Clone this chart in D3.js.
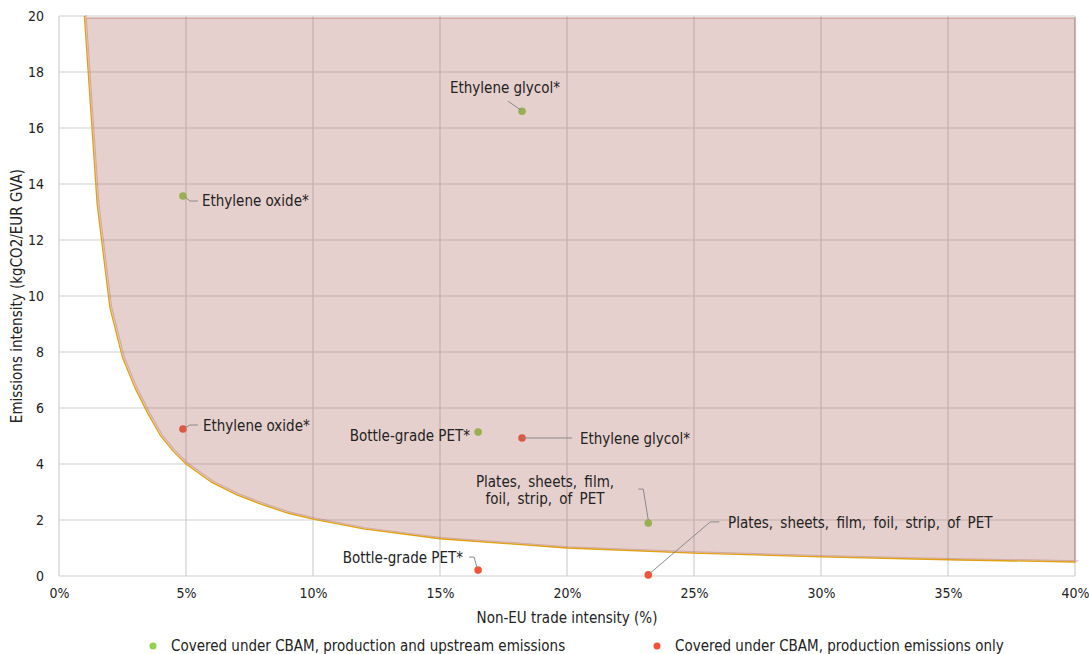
<!DOCTYPE html>
<html><head><meta charset="utf-8">
<script src="https://cdn.jsdelivr.net/npm/d3@7"></script>
<style>body{margin:0;background:#fff}svg{display:block}text{font-family:"DejaVu Sans Condensed","DejaVu Sans",sans-serif;fill:#222}</style>
</head><body><svg id="c" width="1089" height="654"></svg>
<script>
// threshold curve (x: non-EU trade intensity %, y: emissions intensity)
const curveX = [1,1.5,2,2.5,3,3.5,4,4.5,5,6,7,8,9,10,12,15,20,25,30,35,40];
const curveY = [20,13.3,9.6,7.8,6.7,5.8,5.0,4.45,4.0,3.35,2.9,2.55,2.25,2.03,1.68,1.33,1.0,0.82,0.68,0.58,0.5];
const areaTop = 19.93;
// products
const names = ["Ethylene oxide*","Ethylene glycol*","Bottle-grade PET*","Plates, sheets, film, foil, strip, of PET"];
const tradeX = [4.88,18.23,16.5,23.2];
const upstreamY = [13.57,16.6,5.14,1.89];
const productionY = [5.25,4.93,0.21,0.04];
const xTicks = [0,5,10,15,20,25,30,35,40];
const yTicks = [0,2,4,6,8,10,12,14,16,18,20];
const legendLabels = ["Covered under CBAM, production and upstream emissions","Covered under CBAM, production emissions only"];
const green = "#92d050", red = "#f0533a";

const svg = d3.select("#c");
const L=59,R=1075,T=16,B=576;
const x = d3.scaleLinear().domain([0,40]).range([L,R]);
const y = d3.scaleLinear().domain([0,20]).range([B,T]);

// grid
const g = svg.append("g");
g.selectAll("line.v").data(xTicks).join("line").attr("x1",d=>x(d)).attr("x2",d=>x(d)).attr("y1",T).attr("y2",B).attr("stroke","#d0d0d0").attr("stroke-width",1.2);
g.selectAll("line.h").data(yTicks).join("line").attr("x1",L).attr("x2",R).attr("y1",d=>y(d)).attr("y2",d=>y(d)).attr("stroke","#d0d0d0").attr("stroke-width",1.2);

// axis labels
const xa = d3.axisBottom(x).tickValues(xTicks).tickFormat(d=>d+"%").tickSize(0).tickPadding(12);
svg.append("g").attr("transform",`translate(0,${B})`).call(xa).call(s=>{s.select(".domain").remove();s.selectAll("text").attr("font-size",14).style("font-family",'"DejaVu Sans Condensed",sans-serif').attr("fill","#222");});
const ya = d3.axisLeft(y).tickValues(yTicks).tickSize(0).tickPadding(15);
svg.append("g").attr("transform",`translate(${L},0)`).call(ya).call(s=>{s.select(".domain").remove();s.selectAll("text").attr("font-size",14).style("font-family",'"DejaVu Sans Condensed",sans-serif').attr("fill","#222");});

// points (behind the translucent area)
const pts = svg.append("g");
pts.selectAll("circle.u").data(tradeX).join("circle").attr("cx",d=>x(d)).attr("cy",(d,i)=>y(upstreamY[i])).attr("r",3.8).attr("fill",green);
pts.selectAll("circle.p").data(tradeX).join("circle").attr("cx",d=>x(d)).attr("cy",(d,i)=>y(productionY[i])).attr("r",3.8).attr("fill",red);

// shaded area
const curve = curveX.map((v,i)=>[v,curveY[i]]);
const poly = [[curveX[0]+0.05,areaTop],[40,areaTop],[40,curveY[curveY.length-1]]].concat(curve.slice().reverse().map(p=>[p[0]+0.05,p[1]+0.03]));
svg.append("path").attr("d",d3.line().x(d=>x(d[0])).y(d=>y(d[1]))(poly)+"Z")
  .attr("fill","rgb(172,98,88)").attr("fill-opacity",0.3).attr("stroke","rgb(172,98,88)").attr("stroke-opacity",0.35).attr("stroke-width",2);
svg.append("path").attr("d",d3.line().x(d=>x(d[0])).y(d=>y(d[1]))(curve)).attr("fill","none").attr("stroke","#e0a010").attr("stroke-width",1.3);

// labels and leaders
const lab = svg.append("g").attr("font-size",15);
function t(txt,px,py,anchor,ws){lab.append("text").attr("x",px).attr("y",py).attr("text-anchor",anchor||"start").attr("dominant-baseline","middle").attr("word-spacing",ws||0).text(txt);}
function ld(points){svg.append("path").attr("d",d3.line()(points)).attr("fill","none").attr("stroke","#8a8a8a").attr("stroke-width",1);}
// Ethylene oxide upstream
ld([[x(tradeX[0])+2,y(upstreamY[0])+1],[x(tradeX[0])+7,y(upstreamY[0])+5],[x(tradeX[0])+15,y(upstreamY[0])+5]]);
t(names[0],202,201);
// Ethylene oxide production
ld([[x(tradeX[0])+2,y(productionY[0])-1],[x(tradeX[0])+7,y(productionY[0])-4],[x(tradeX[0])+15,y(productionY[0])-4]]);
t(names[0],203,426);
// Ethylene glycol upstream
ld([[x(tradeX[1])-1,y(upstreamY[1])-1],[x(tradeX[1])-14,y(upstreamY[1])-10]]);
t(names[1],505,88,"middle");
// Ethylene glycol production
ld([[x(tradeX[1]),y(productionY[1])],[x(tradeX[1])+50,y(productionY[1])]]);
t(names[1],580,439);
// Bottle-grade PET upstream
t(names[2],470,436,"end");
// Bottle-grade PET production
ld([[x(tradeX[2])-1,y(productionY[2])-2],[x(tradeX[2])-4,y(productionY[2])-13],[x(tradeX[2])-9,y(productionY[2])-13]]);
t(names[2],463,558,"end");
// Plates upstream (two lines)
ld([[x(tradeX[3]),y(upstreamY[3])-3],[x(tradeX[3])-5,y(upstreamY[3])-34],[x(tradeX[3])-10,y(upstreamY[3])-34]]);
t("Plates, sheets, film,",545,482,"middle",3);
t("foil, strip, of PET",545,499,"middle",3);
// Plates production
ld([[x(tradeX[3])+1,y(productionY[3])-1],[x(tradeX[3])+62,y(productionY[3])-53],[x(tradeX[3])+71,y(productionY[3])-53]]);
t(names[3],728,523,"start",3);

// axis titles
svg.append("text").attr("x",567).attr("y",618).attr("text-anchor","middle").attr("dominant-baseline","middle").attr("font-size",15).text("Non-EU trade intensity (%)");
svg.append("text").attr("transform","translate(17,296) rotate(-90)").attr("text-anchor","middle").attr("dominant-baseline","middle").attr("font-size",15).text("Emissions intensity (kgCO2/EUR GVA)");

// legend
const lg = svg.append("g").attr("font-size",15);
[[153,green,legendLabels[0]],[657,red,legendLabels[1]]].forEach(([lx,c,txt])=>{
  lg.append("circle").attr("cx",lx).attr("cy",646).attr("r",3.5).attr("fill",c);
  lg.append("text").attr("x",lx+18).attr("y",646).attr("dominant-baseline","middle").text(txt);
});
</script></body></html>
